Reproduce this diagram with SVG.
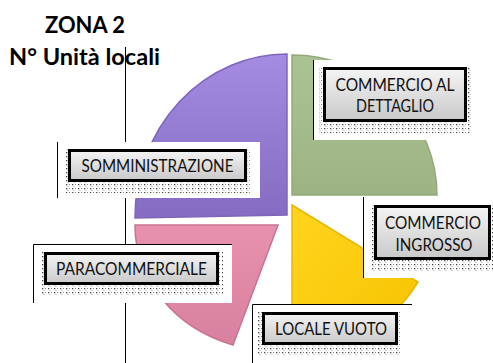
<svg xmlns="http://www.w3.org/2000/svg" width="493" height="363" viewBox="0 0 493 363">
  <defs>
    <style>
      .title { font-family: Lato, "Liberation Sans", sans-serif; font-weight: bold; font-size: 22px; fill: #000; text-anchor: middle; }
      .lbl { font-family: Lato, "Liberation Sans", sans-serif; font-size: 17px; fill: #111; text-anchor: middle; }
      .box { fill: url(#boxGrad); stroke: #000; stroke-width: 3; }
      .shadow { fill: url(#dots); }
      .wbox { fill: #fff; stroke: none; }
      .ln { stroke: #000; stroke-width: 1; fill: none; }
      .slice { stroke-width: 1.5; }
    </style>
    <linearGradient id="boxGrad" x1="0" y1="0" x2="0" y2="1">
      <stop offset="0" stop-color="#f4f4f4"/>
      <stop offset="1" stop-color="#c9c9c9"/>
    </linearGradient>
    <pattern id="dots" width="6" height="4" patternUnits="userSpaceOnUse">
      <rect x="0" y="0" width="1.3" height="1.3" fill="#444"/>
      <rect x="3" y="0" width="1" height="1" fill="#888"/>
      <rect x="1.5" y="2" width="1" height="1" fill="#aaa"/>
    </pattern>
    <linearGradient id="gPurple" x1="0" y1="0" x2="0" y2="1">
      <stop offset="0" stop-color="#a48ce2"/>
      <stop offset="1" stop-color="#856bc2"/>
    </linearGradient>
    <linearGradient id="gGreen" x1="0" y1="0" x2="0" y2="1">
      <stop offset="0" stop-color="#abc393"/>
      <stop offset="1" stop-color="#9db383"/>
    </linearGradient>
    <linearGradient id="gYellow" x1="0" y1="0" x2="1" y2="1">
      <stop offset="0" stop-color="#ffd51e"/>
      <stop offset="1" stop-color="#f6c200"/>
    </linearGradient>
    <linearGradient id="gPink" x1="0" y1="0" x2="0" y2="1">
      <stop offset="0" stop-color="#e891ae"/>
      <stop offset="1" stop-color="#d8809f"/>
    </linearGradient>
  </defs>
  <rect width="493" height="363" fill="#fff"/>

  <!-- pie slices -->
  <g id="slice-somministrazione">
    <path class="slice" d="M287,215 L287,54 A152,163 0 0 0 135,218 Z" fill="url(#gPurple)" stroke="#7f66ba"/>
  </g>
  <g id="slice-dettaglio">
    <path class="slice" d="M292,195 L292,55 A145,140 0 0 1 437,195 Z" fill="url(#gGreen)" stroke="#93a97b"/>
  </g>
  <g id="slice-ingrosso">
    <path class="slice" d="M292,205 L418,282 A148,148 0 0 1 292,353 Z" fill="url(#gYellow)" stroke="#e9b600"/>
  </g>
  <g id="slice-paracommerciale">
    <path class="slice" d="M278,225 L135,225 A143,126 0 0 0 233,345 Z" fill="url(#gPink)" stroke="#c97391"/>
  </g>

  <!-- connectors / leader lines and label backgrounds -->
  <g id="connectors">
    <line class="ln" x1="125.5" y1="47" x2="125.5" y2="363"/>
    <rect class="wbox" x="57" y="142" width="203" height="56"/>
    <line class="ln" x1="57.5" y1="142" x2="57.5" y2="198"/>
    <rect class="wbox" x="33" y="244" width="199" height="59"/>
    <polyline class="ln" points="33.5,303 33.5,244.5 232,244.5"/>
    <rect class="wbox" x="313" y="60" width="170" height="80"/>
    <line class="ln" x1="313.5" y1="60" x2="313.5" y2="140"/>
    <rect class="wbox" x="363" y="197" width="130" height="81"/>
    <line class="ln" x1="363.5" y1="197" x2="363.5" y2="278"/>
    <rect class="wbox" x="252" y="304" width="160" height="59"/>
    <polyline class="ln" points="252.5,363 252.5,304.5 412,304.5"/>
  </g>

  <!-- labels -->
  <g id="label-somministrazione">
    <rect class="shadow" x="64" y="149" width="187" height="44"/>
    <rect class="box" x="69.5" y="150.5" width="176" height="30"/>
    <text class="lbl" x="157.5" y="172" textLength="152" lengthAdjust="spacingAndGlyphs">SOMMINISTRAZIONE</text>
  </g>
  <g id="label-paracommerciale">
    <rect class="shadow" x="40" y="252" width="183" height="43"/>
    <rect class="box" x="45.5" y="253.5" width="172" height="30"/>
    <text class="lbl" x="131.5" y="275" textLength="151" lengthAdjust="spacingAndGlyphs">PARACOMMERCIALE</text>
  </g>
  <g id="label-dettaglio">
    <rect class="shadow" x="319" y="67" width="152" height="66"/>
    <rect class="box" x="324.5" y="68.5" width="141" height="52"/>
    <text class="lbl" x="395" y="91" textLength="119" lengthAdjust="spacingAndGlyphs">COMMERCIO AL</text>
    <text class="lbl" x="395" y="112" textLength="78" lengthAdjust="spacingAndGlyphs">DETTAGLIO</text>
  </g>
  <g id="label-ingrosso">
    <rect class="shadow" x="370" y="205" width="123" height="66"/>
    <rect class="box" x="375.5" y="206.5" width="114" height="52"/>
    <text class="lbl" x="433" y="229" textLength="96" lengthAdjust="spacingAndGlyphs">COMMERCIO</text>
    <text class="lbl" x="434" y="251" textLength="77" lengthAdjust="spacingAndGlyphs">INGROSSO</text>
  </g>
  <g id="label-vuoto">
    <rect class="shadow" x="258" y="312" width="144" height="43"/>
    <rect class="box" x="263.5" y="313.5" width="133" height="30"/>
    <text class="lbl" x="331" y="335" textLength="112" lengthAdjust="spacingAndGlyphs">LOCALE VUOTO</text>
  </g>

  <!-- title -->
  <g id="title">
    <text class="title" x="85" y="33" textLength="80" lengthAdjust="spacingAndGlyphs">ZONA 2</text>
    <text class="title" x="84.5" y="65" textLength="151" lengthAdjust="spacingAndGlyphs">N° Unità locali</text>
  </g>
</svg>
